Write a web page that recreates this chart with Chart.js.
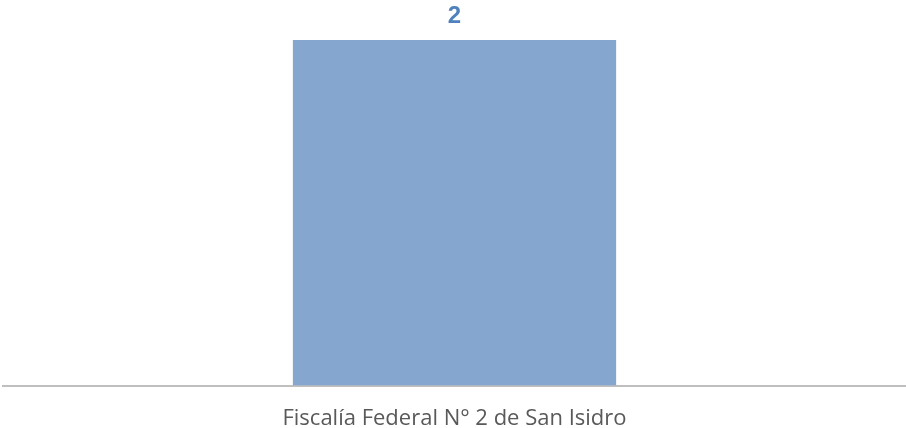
<!DOCTYPE html>
<html>
<head>
<meta charset="utf-8">
<script src="https://cdn.jsdelivr.net/npm/chart.js@4"></script>
<style>
  html, body { margin: 0; padding: 0; background: #fff; overflow: hidden; }
  #wrap { width: 906px; height: 452px; }
</style>
</head>
<body>
<div id="wrap"><canvas id="chart"></canvas></div>
<script>
// Chart data
const categories = ['Fiscalía Federal N° 2 de San Isidro'];
const values = [2];

// Draw the value above each bar
const valueLabels = {
  id: 'valueLabels',
  afterDatasetsDraw(chart) {
    const ctx = chart.ctx;
    const meta = chart.getDatasetMeta(0);
    ctx.save();
    ctx.font = 'bold 24px "Liberation Sans", Arial, sans-serif';
    ctx.fillStyle = '#4F81BD';
    ctx.textAlign = 'center';
    ctx.textBaseline = 'alphabetic';
    meta.data.forEach(function (bar, i) {
      ctx.fillText(values[i], bar.x, bar.y - 17);
    });
    ctx.restore();
  }
};

const ctx = document.getElementById('chart').getContext('2d');
new Chart(ctx, {
  type: 'bar',
  data: {
    labels: categories,
    datasets: [{
      data: values,
      backgroundColor: '#85A7CF',
      borderWidth: 0,
      categoryPercentage: 1,
      barPercentage: 0.358
    }]
  },
  options: {
    responsive: true,
    maintainAspectRatio: false,
    animation: false,
    layout: { padding: { top: 40, left: 3, right: 0, bottom: 0 } },
    plugins: {
      legend: { display: false },
      tooltip: { enabled: false }
    },
    scales: {
      y: { display: false, min: 0, max: 2 },
      x: {
        grid: { display: false, drawTicks: false },
        border: { display: true, color: '#BFBFBF', width: 2 },
        ticks: {
          color: '#595959',
          padding: 20,
          font: { family: '"Open Sans", sans-serif', size: 22 }
        }
      }
    }
  },
  plugins: [valueLabels]
});
</script>
</body>
</html>
